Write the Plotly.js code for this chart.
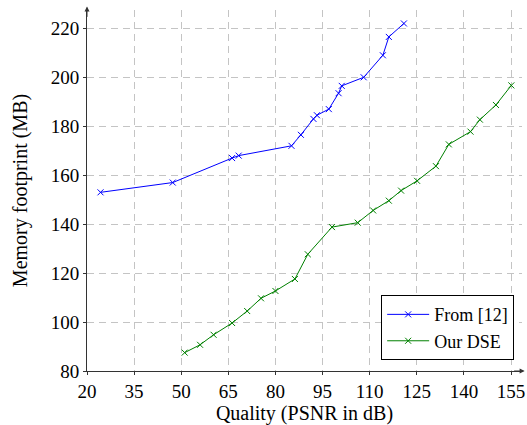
<!DOCTYPE html>
<html>
<head>
<meta charset="utf-8">
<script src="https://cdn.plot.ly/plotly-3.0.1.min.js"></script>
<style>html,body{margin:0;padding:0;background:#fff;}#chart{width:527px;height:425px;}</style>
</head>
<body>
<div id="chart"></div>
<script>
const fromX = [24.3, 47.3, 66.2, 68.3, 85.1, 88.1, 92.1, 93.2, 97.0, 100.1, 101.1, 108.1, 114.2, 116.1, 120.9];
const fromY = [153, 157, 167, 168, 172, 176.5, 183, 184.5, 187, 193.5, 196.5, 200, 209, 216.5, 222];
const dseX = [51.1, 56.0, 60.3, 66.2, 71.0, 75.4, 80.0, 86.2, 90.3, 98.0, 106.2, 111.1, 116.1, 120.0, 125.1, 131.1, 135.2, 142.1, 145.1, 150.2, 155.1];
const dseY = [87.5, 90.7, 94.8, 99.6, 104.5, 109.7, 112.7, 117.6, 127.7, 138.8, 140.6, 145.6, 149.6, 153.7, 157.7, 163.7, 172.6, 177.8, 182.7, 188.7, 196.7];
const xTicks = [20, 35, 50, 65, 80, 95, 110, 125, 140, 155];
const yTicks = [80, 100, 120, 140, 160, 180, 200, 220];
const seriesNames = ['From [12]', 'Our DSE'];

const FAM = 'Liberation Serif';
const TICK = 19, LAB = 20, LEG = 18;
const traces = [
  {x: fromX, y: fromY, name: seriesNames[0], mode: 'lines+markers', type: 'scatter',
   line: {color: '#0000ff', width: 1},
   marker: {symbol: 'x-thin', size: 6, line: {color: '#0000ff', width: 1}}},
  {x: dseX, y: dseY, name: seriesNames[1], mode: 'lines+markers', type: 'scatter',
   line: {color: '#008000', width: 1},
   marker: {symbol: 'x-thin', size: 6, line: {color: '#008000', width: 1}}}
];
const layout = {
  width: 527, height: 425,
  margin: {l: 87, r: 5, t: 10, b: 54},
  paper_bgcolor: '#fff', plot_bgcolor: '#fff',
  font: {family: FAM, size: TICK, color: '#000'},
  showlegend: true,
  legend: {x: 0.982, y: 0.03, xanchor: 'right', yanchor: 'bottom',
           bordercolor: '#000', borderwidth: 1, bgcolor: '#fff', itemwidth: 42,
           font: {family: FAM, size: LEG, color: '#000'}, tracegroupgap: 0},
  xaxis: {range: [20, 158.5], tickvals: xTicks, ticktext: xTicks.map(String),
          showgrid: true, gridcolor: '#c4c4c4', griddash: '7px,5px', gridwidth: 1,
          zeroline: false, showline: true, linecolor: '#333', linewidth: 1,
          ticks: 'outside', ticklen: 3, tickcolor: '#333',
          tickfont: {family: FAM, size: TICK, color: '#000'},
          title: {text: 'Quality (PSNR in dB)', font: {family: FAM, size: LAB, color: '#000'}, standoff: 2}},
  yaxis: {range: [80, 227.5], tickvals: yTicks, ticktext: yTicks.map(String),
          showgrid: true, gridcolor: '#c4c4c4', griddash: '7px,5px', gridwidth: 1,
          zeroline: false, showline: true, linecolor: '#333', linewidth: 1,
          ticks: 'outside', ticklen: 3, tickcolor: '#333',
          tickfont: {family: FAM, size: TICK, color: '#000'},
          title: {text: 'Memory footprint (MB)', font: {family: FAM, size: LAB, color: '#000'}, standoff: 17}},
  annotations: [
    {xref: 'paper', yref: 'paper', x: 1.006, y: 0, ax: -12, ay: 0, axref: 'pixel', ayref: 'pixel',
     showarrow: true, arrowhead: 2, arrowsize: 1, arrowwidth: 1, arrowcolor: '#333', text: ''},
    {xref: 'paper', yref: 'paper', x: 0, y: 1.01, ax: 0, ay: 12, axref: 'pixel', ayref: 'pixel',
     showarrow: true, arrowhead: 2, arrowsize: 1, arrowwidth: 1, arrowcolor: '#333', text: ''}
  ]
};
Plotly.newPlot('chart', traces, layout, {displayModeBar: false, staticPlot: true});
</script>
</body>
</html>
